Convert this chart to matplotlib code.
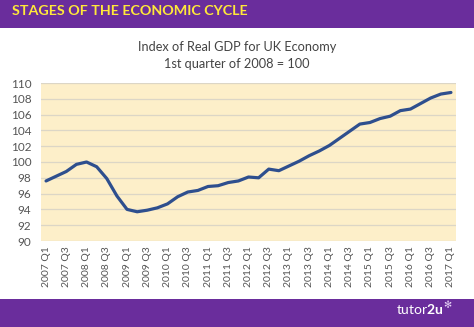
import matplotlib
matplotlib.use("Agg")
import matplotlib.pyplot as plt
from matplotlib.patches import Rectangle

# index of real GDP, 2008 Q1 = 100, quarterly 2007 Q1 .. 2017 Q1
years = list(range(2007, 2018))
quarters = [f"{y} Q{q}" for y in years for q in (1, 2, 3, 4)][:41]
gdp = [97.6, 98.2, 98.8, 99.7, 100.0, 99.4, 97.9, 95.7, 94.0, 93.7,
       93.9, 94.2, 94.7, 95.6, 96.2, 96.4, 96.9, 97.0, 97.4, 97.6,
       98.1, 98.0, 99.1, 98.9, 99.5, 100.1, 100.8, 101.4, 102.1, 103.0,
       103.9, 104.8, 105.0, 105.5, 105.8, 106.5, 106.7, 107.4, 108.1, 108.6,
       108.8]
yticks = list(range(90, 111, 2))

purple = "#6a2d9c"
plt.rcParams["font.family"] = ["Lato", "DejaVu Sans"]
plt.rcParams["mathtext.fontset"] = "custom"
plt.rcParams["mathtext.rm"] = "Lato"
plt.rcParams["mathtext.bf"] = "Lato:bold"

fig = plt.figure(figsize=(4.74, 3.27), dpi=100)
fig.patch.set_facecolor("white")

# banners top and bottom
fig.patches.append(Rectangle((0, 1 - 28 / 327), 1, 28 / 327, transform=fig.transFigure,
                             facecolor=purple, edgecolor="none", zorder=0))
fig.patches.append(Rectangle((0, 0), 1, 28 / 327, transform=fig.transFigure,
                             facecolor=purple, edgecolor="none", zorder=0))
fig.text(12 / 474, 1 - 11 / 327, "STAGES OF THE ECONOMIC CYCLE", color="#ffe83a",
         fontsize=10.3, fontweight="bold", va="center", ha="left")

# logo
logo = fig.text(396 / 474, 1 - 314 / 327, r"tutor$\mathbf{2u}$", color="white",
                fontsize=10, va="baseline", ha="left")
fig.add_artist(plt.Annotation("\u273b", xy=(1, 0.45), xycoords=logo, xytext=(-0.6, 0),
                              textcoords="offset points", color="#e6d2f5",
                              fontsize=7, va="bottom", ha="left", family="DejaVu Sans"))

fig.text(237 / 474, 1 - 47 / 327, "Index of Real GDP for UK Economy", color="#444444",
         fontsize=9.2, ha="center", va="center")
fig.text(237 / 474, 1 - 64 / 327, "1st quarter of 2008 = 100", color="#444444",
         fontsize=9.2, ha="center", va="center")

ax = fig.add_axes([41 / 474, 1 - 241 / 327, 415 / 474, 158 / 327])
ax.set_facecolor("#fdefc9")
x = list(range(len(gdp)))
ax.plot(x, gdp, color="#2e4f8e", linewidth=2.3, solid_capstyle="round", zorder=3)

ax.set_xlim(-0.5, len(gdp) - 0.5)
ax.set_ylim(90, 110)
ax.set_yticks(yticks)
ax.set_yticklabels([str(v) for v in yticks])
ax.set_xticks(x[::2])
ax.set_xticklabels(quarters[::2], rotation=90)
ax.tick_params(axis="both", length=0, colors="#555555", labelsize=7.5)
ax.tick_params(axis="y", pad=7, labelsize=8.5)
ax.tick_params(axis="x", pad=4)
ax.grid(axis="y", color="#dcd6c6", linewidth=0.9)
ax.set_axisbelow(True)
for s in ax.spines.values():
    s.set_visible(False)

fig.savefig("out.png", dpi=100)
